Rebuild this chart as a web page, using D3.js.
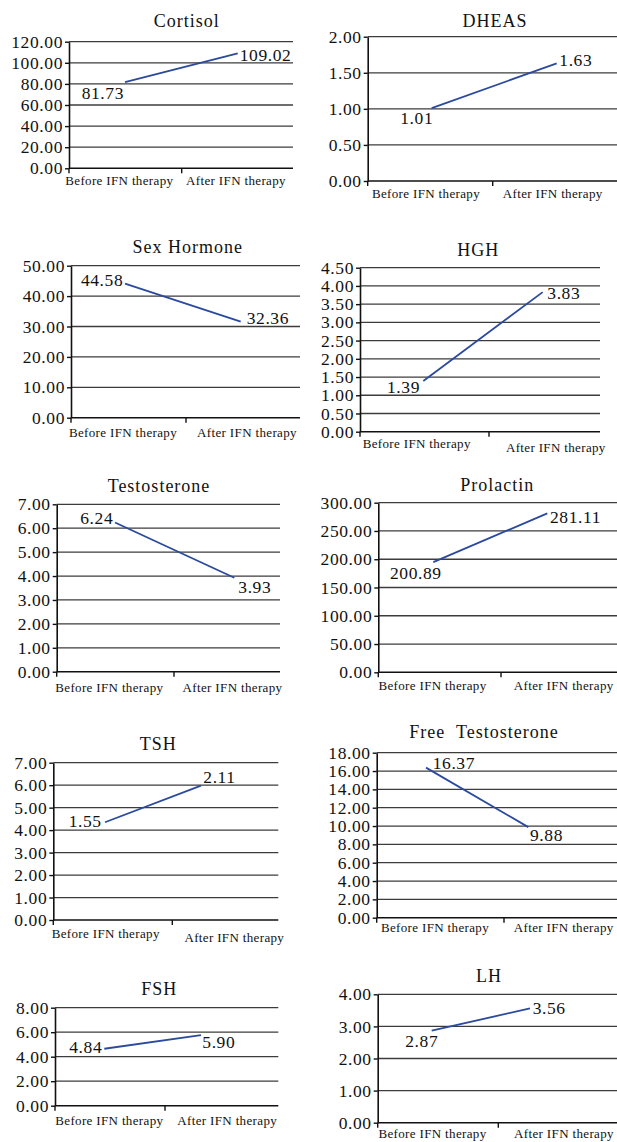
<!DOCTYPE html>
<html>
<head>
<meta charset="utf-8">
<script src="https://cdn.jsdelivr.net/npm/d3@7"></script>
<style>
  html, body { margin: 0; padding: 0; background: #fff; }
  svg { display: block; }
  text { font-family: "Liberation Serif", "Times New Roman", serif; fill: #111; }
</style>
</head>
<body>
<svg id="chart" width="617" height="1142"></svg>
<script>
// ---------- data ----------
const categories = ["Before IFN therapy", "After IFN therapy"];
const titles = ["Cortisol", "DHEAS", "Sex Hormone", "HGH", "Testosterone",
                "Prolactin", "TSH", "Free  Testosterone", "FSH", "LH"];
// numbers printed next to the points
const printedValues = [
  [81.73, 109.02], [1.01, 1.63], [44.58, 32.36], [1.39, 3.83], [6.24, 3.93],
  [200.89, 281.11], [1.55, 2.11], [16.37, 9.88], [4.84, 5.90], [2.87, 3.56]
];
// where the line is actually drawn in the picture
const plottedValues = [
  [81.73, 109.02], [1.01, 1.63], [44.1, 31.6], [1.39, 3.83], [6.24, 3.93],
  [195, 281.11], [4.35, 5.98], [16.37, 9.88], [4.65, 5.77], [2.87, 3.56]
];
const yMax  = [120, 2, 50, 4.5, 7, 300, 7, 18, 8, 4];
const yStep = [20, 0.5, 10, 0.5, 1, 50, 1, 2, 2, 1];

// ---------- layout (positions only) ----------
const layout = [
  {axisX: 69,    midX: 181.7, gridR: 293, top: 41.7,  bottom: 168.3, pts: [125, 237.7],   catX: [119.3, 236],   catY: [185, 185],     titleX: 186.7, titleY: 27,
   lab: [["end", -1, 16.7], ["start", 2, 7.3]]},
  {axisX: 367.7, midX: 492.7, gridR: 617, top: 36.7,  bottom: 181,   pts: [431.7, 556.7], catX: [426, 552.7],   catY: [198, 198],     titleX: 495,   titleY: 27,
   lab: [["end", 1.6, 15.7], ["start", 2.6, 2.6]]},
  {axisX: 71,    midX: 186,   gridR: 300, top: 265.7, bottom: 417.7, pts: [125, 240.7],   catX: [123, 247],     catY: [436.7, 436.7], titleX: 187.7, titleY: 253.3,
   lab: [["end", -1.7, 2], ["start", 6, 2.6]]},
  {axisX: 360,   midX: 489,   gridR: 600, top: 267.7, bottom: 431.7, pts: [423.3, 542.7], catX: [416.7, 555.8], catY: [447.7, 451.7], titleX: 478.3, titleY: 255.7,
   lab: [["end", -3.3, 12.3], ["start", 4.6, 7.3]]},
  {axisX: 56.7,  midX: 174,   gridR: 280, top: 504.3, bottom: 671.7, pts: [115, 234.3],   catX: [109.3, 232.5], catY: [691.7, 691.7], titleX: 159,   titleY: 492.3,
   lab: [["end", -1.7, 2], ["start", 4, 15]]},
  {axisX: 378.3, midX: 501,   gridR: 617, top: 502.7, bottom: 672.3, pts: [433.3, 547.3], catX: [432.5, 563.7], catY: [690, 690],     titleX: 497.3, titleY: 490.7,
   lab: [["end", 8.4, 17.3], ["start", 2.7, 10]]},
  {axisX: 53.3,  midX: 172.3, gridR: 278.3, top: 762.7, bottom: 920, pts: [105, 201],     catX: [105.7, 234.3], catY: [937.7, 942.3], titleX: 158.3, titleY: 750,
   lab: [["end", -3.3, 4.4], ["start", 2.3, -2.4]]},
  {axisX: 376.7, midX: 504,   gridR: 617, top: 752.7, bottom: 917.7, pts: [426, 528.3],   catX: [435, 563.7],   catY: [931.7, 931.7], titleX: 484,   titleY: 738.3,
   lab: [["start", 6.7, 1], ["start", 1.7, 14]]},
  {axisX: 55,    midX: 165,   gridR: 278.3, top: 1007.7, bottom: 1105.7, pts: [104.3, 201], catX: [109.3, 227.2], catY: [1125, 1125], titleX: 159.3, titleY: 995,
   lab: [["end", -2, 4.6], ["start", 1.3, 13.3]]},
  {axisX: 377.7, midX: 498.3, gridR: 617, top: 994.3, bottom: 1122.7, pts: [431.7, 530],  catX: [432.5, 564],   catY: [1138.3, 1138.3], titleX: 489, titleY: 981.7,
   lab: [["end", 6.6, 16], ["start", 2.7, 5.4]]}
];

const svg = d3.select("#chart");
const fmt = d3.format(".2f");
const lineColor = "#2b4a9e";

titles.forEach((title, i) => {
  const L = layout[i];
  const g = svg.append("g");

  const y = d3.scaleLinear().domain([0, yMax[i]]).range([L.bottom, L.top]);
  const xPts = d3.scalePoint().domain(categories).range(L.pts);
  const xBand = d3.scaleBand().domain(categories).range([L.axisX, L.axisX + 2 * (L.midX - L.axisX)]);
  const ticks = d3.range(0, yMax[i] + yStep[i] / 2, yStep[i]);

  // gridlines
  g.append("g").selectAll("line").data(ticks.filter(t => t > 0)).join("line")
    .attr("x1", L.axisX).attr("x2", L.gridR)
    .attr("y1", d => y(d)).attr("y2", d => y(d))
    .attr("stroke", "#3c3c3c").attr("stroke-width", 1.3);

  // y axis
  const yAxis = d3.axisLeft(y).tickValues(ticks).tickFormat(fmt).tickSize(4).tickSizeOuter(0).tickPadding(2);
  const ya = g.append("g").attr("transform", `translate(${L.axisX},0)`).call(yAxis);
  ya.select(".domain").attr("stroke", "#111").attr("stroke-width", 1.6);
  ya.selectAll(".tick line").attr("stroke", "#111").attr("stroke-width", 1.4);
  ya.selectAll(".tick text")
    .style("font-family", "'Liberation Serif', serif")
    .style("font-size", "17.5px").style("letter-spacing", "0.6px").attr("fill", "#111");

  // x axis line
  g.append("line").attr("x1", L.axisX).attr("x2", L.gridR)
    .attr("y1", y(0)).attr("y2", y(0)).attr("stroke", "#111").attr("stroke-width", 1.6);
  // x tick marks at category boundaries
  g.append("g").selectAll("line").data(categories).join("line")
    .attr("x1", d => xBand(d)).attr("x2", d => xBand(d))
    .attr("y1", y(0)).attr("y2", y(0) + 5)
    .attr("stroke", "#111").attr("stroke-width", 1.4);

  // category labels
  g.append("g").selectAll("text").data(categories).join("text")
    .attr("x", (d, k) => L.catX[k]).attr("y", (d, k) => L.catY[k])
    .attr("text-anchor", "middle")
    .style("font-size", "13px").style("letter-spacing", "0.35px")
    .text(d => d);

  // title
  g.append("text").attr("x", L.titleX).attr("y", L.titleY)
    .attr("text-anchor", "middle")
    .style("font-size", "18px").style("letter-spacing", "1px").style("white-space", "pre")
    .text(title);

  // line
  const pts = categories.map((c, k) => ({c, v: plottedValues[i][k], label: printedValues[i][k], k}));
  g.append("path").datum(pts)
    .attr("d", d3.line().x(d => xPts(d.c)).y(d => y(d.v)))
    .attr("fill", "none").attr("stroke", lineColor).attr("stroke-width", 1.8);

  // value labels
  g.append("g").selectAll("text").data(pts).join("text")
    .attr("x", d => xPts(d.c) + L.lab[d.k][1])
    .attr("y", d => y(d.v) + L.lab[d.k][2])
    .attr("text-anchor", d => L.lab[d.k][0])
    .style("font-size", "17.5px").style("letter-spacing", "0.6px")
    .text(d => fmt(d.label));
});
</script>
</body>
</html>
